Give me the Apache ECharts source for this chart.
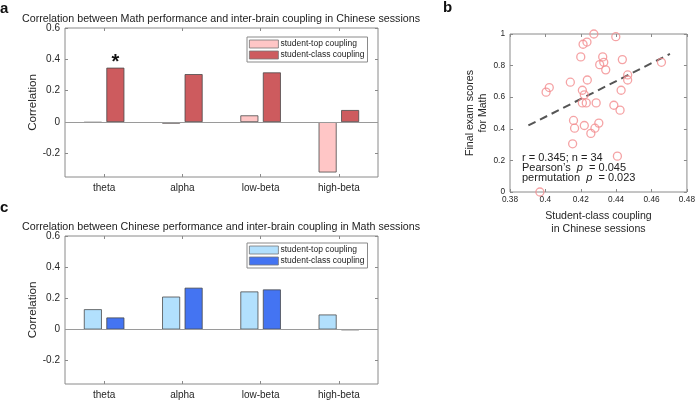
<!DOCTYPE html>
<html><head><meta charset="utf-8">
<script src="https://cdn.jsdelivr.net/npm/echarts@6/dist/echarts.min.js"></script>
<style>html,body{margin:0;padding:0;background:#fff}#c{width:698px;height:401px}</style>
</head><body><div id="c"></div><script>
// ---- data ----
const bands = ['theta', 'alpha', 'low-beta', 'high-beta'];
const mathTop = [-0.003, -0.01, 0.043, -0.321];
const mathClass = [0.347, 0.306, 0.317, 0.077];
const mathSig = ['*', '', '', ''];
const chnTop = [0.130, 0.211, 0.244, 0.096];
const chnClass = [0.077, 0.268, 0.257, -0.003];
const corrTicks = [-0.2, 0, 0.2, 0.4, 0.6];
const couplingX = [0.4274, 0.4398, 0.4213, 0.4235, 0.4200, 0.4324, 0.4330, 0.4307, 0.4341, 0.4435,
  0.4656, 0.4465, 0.4465, 0.4237, 0.4141, 0.4004, 0.4022, 0.4209, 0.4220, 0.4209,
  0.4231, 0.4287, 0.4428, 0.4387, 0.4422, 0.4159, 0.4165, 0.4220, 0.4302, 0.4280,
  0.4257, 0.4154, 0.4407, 0.3969];
const mathScores = [1.000, 0.983, 0.935, 0.949, 0.855, 0.855, 0.821, 0.806, 0.773, 0.838,
  0.821, 0.741, 0.709, 0.709, 0.695, 0.632, 0.661, 0.644, 0.615, 0.564,
  0.564, 0.564, 0.644, 0.549, 0.518, 0.453, 0.404, 0.421, 0.436, 0.404,
  0.371, 0.305, 0.227, 0.000];
const fitX = [0.3904, 0.4704];
const fitY = [0.421, 0.874];

// ---- style ----
const F = '"Liberation Sans", Arial, sans-serif';
const axisColor = '#8a8a8a';
const textColor = '#262626';
const edge = '#4a4a4a';

const chart = echarts.init(document.getElementById('c'));

function catAxis(grid, pos, labels) {
  return {
    type: 'category', gridIndex: grid, position: pos, data: bands,
    axisLine: { show: false, onZero: false },
    axisTick: { show: true, inside: true, length: 3, alignWithLabel: true, interval: 0, lineStyle: { color: axisColor } },
    axisLabel: { show: labels, interval: 0, margin: 6, fontFamily: F, fontSize: 10, color: textColor },
    splitLine: { show: false }
  };
}
function corrAxis(grid, pos, labels) {
  return {
    type: 'value', gridIndex: grid, position: pos, min: -0.35, max: 0.6,
    axisLine: { show: false, onZero: false }, splitLine: { show: false },
    axisTick: { show: true, inside: true, length: 3, customValues: corrTicks, lineStyle: { color: axisColor } },
    axisLabel: { show: labels, customValues: corrTicks, margin: 5, fontFamily: F, fontSize: 10, color: textColor,
      formatter: v => (Math.abs(v) < 1e-9 ? '0' : v.toFixed(1)) },
    name: labels ? 'Correlation' : '', nameLocation: 'middle', nameGap: 22,
    nameTextStyle: { fontFamily: F, fontSize: 11.6, color: textColor }
  };
}
function valAxisB(type, pos, labels) {
  const isX = type === 'x';
  return {
    type: 'value', gridIndex: 2, position: pos,
    min: isX ? 0.38 : 0, max: isX ? 0.48 : 1, interval: isX ? 0.02 : 0.2,
    axisLine: { show: false, onZero: false }, splitLine: { show: false },
    axisTick: { show: true, inside: true, length: 3, lineStyle: { color: axisColor } },
    axisLabel: { show: labels, margin: isX ? 4 : 5, fontFamily: F, fontSize: 8.3, color: textColor,
      formatter: v => String(+v.toFixed(2)) },
    name: labels ? (isX ? 'Student-class coupling\nin Chinese sessions' : 'Final exam scores\nfor Math') : '',
    nameLocation: 'middle', nameGap: isX ? 18 : 19,
    nameTextStyle: { fontFamily: F, fontSize: 10.6, color: textColor, lineHeight: 12.7 }
  };
}
function legendCfg(top, prefix) {
  return {
    orient: 'vertical', left: 247, top: top, selectedMode: false,
    data: [prefix + 'student-top coupling', prefix + 'student-class coupling'],
    formatter: n => n.slice(2),
    icon: 'rect', itemWidth: 29, itemHeight: 8, itemGap: 1,
    itemStyle: { borderWidth: 0.8, borderColor: '#777' },
    padding: [2, 3, 2, 2], borderColor: '#8a8a8a', borderWidth: 1,
    textStyle: { fontFamily: F, fontSize: 8.5, color: '#222', lineHeight: 10, padding: [0, 0, 0, -3] }
  };
}
const zeroLine = {
  silent: true, symbol: 'none', label: { show: false },
  lineStyle: { color: '#9a9a9a', type: 'solid', width: 1 },
  data: [{ yAxis: 0 }]
};
function barSeries(name, xi, yi, data, color, withZero) {
  const s = {
    type: 'bar', name, xAxisIndex: xi, yAxisIndex: yi, data,
    barWidth: 18, barGap: '25%',
    itemStyle: { color, borderColor: edge, borderWidth: 0.8 }
  };
  if (withZero) s.markLine = zeroLine;
  return s;
}

const mathClassData = mathClass.map((v, i) => mathSig[i] ? {
  value: v,
  label: { show: true, position: 'top', formatter: mathSig[i], distance: -5,
    fontFamily: F, fontSize: 20, fontWeight: 'bold', color: '#111' }
} : v);

const option = {
  animation: false,
  backgroundColor: '#fff',
  grid: [
    { left: 65, top: 28, width: 313, height: 149, show: true, borderColor: axisColor, borderWidth: 1, backgroundColor: 'transparent' },
    { left: 65, top: 236, width: 313, height: 148, show: true, borderColor: axisColor, borderWidth: 1, backgroundColor: 'transparent' },
    { left: 510, top: 34, width: 180, height: 158, show: true, borderColor: axisColor, borderWidth: 1, backgroundColor: 'transparent' }
  ],
  xAxis: [
    catAxis(0, 'bottom', true), catAxis(0, 'top', false),
    catAxis(1, 'bottom', true), catAxis(1, 'top', false),
    valAxisB('x', 'bottom', true), valAxisB('x', 'top', false)
  ],
  yAxis: [
    corrAxis(0, 'left', true), corrAxis(0, 'right', false),
    corrAxis(1, 'left', true), corrAxis(1, 'right', false),
    valAxisB('y', 'left', true), valAxisB('y', 'right', false)
  ],
  legend: [legendCfg(37, 'a:'), legendCfg(243, 'c:')],
  series: [
    barSeries('a:student-top coupling', 0, 0, mathTop, '#FFC6C6', true),
    barSeries('a:student-class coupling', 0, 0, mathClassData, '#CD5B5E', false),
    barSeries('c:student-top coupling', 2, 2, chnTop, '#B2E0FD', true),
    barSeries('c:student-class coupling', 2, 2, chnClass, '#4474F2', false),
    {
      type: 'line', xAxisIndex: 4, yAxisIndex: 4, data: fitX.map((x, i) => [x, fitY[i]]),
      symbol: 'none', silent: true, z: 3,
      lineStyle: { color: '#555', width: 2, type: [8, 5] }
    },
    {
      type: 'scatter', xAxisIndex: 4, yAxisIndex: 4, z: 4,
      data: couplingX.map((x, i) => [x, mathScores[i]]),
      symbol: 'circle', symbolSize: 8,
      itemStyle: { color: 'transparent', borderColor: '#F38C8E', borderWidth: 1.3 }
    }
  ],
  graphic: [
    { type: 'text', x: 221, y: 19, style: { text: 'Correlation between Math performance and inter-brain coupling in Chinese sessions',
      font: '10.7px ' + F, fill: '#222', align: 'center', verticalAlign: 'middle' } },
    { type: 'text', x: 221, y: 227, style: { text: 'Correlation between Chinese performance and inter-brain coupling in Math sessions',
      font: '10.7px ' + F, fill: '#222', align: 'center', verticalAlign: 'middle' } },
    { type: 'text', x: 0, y: 1, style: { text: 'a', font: 'bold 15px ' + F, fill: '#111' } },
    { type: 'text', x: 443, y: 0, style: { text: 'b', font: 'bold 15px ' + F, fill: '#111' } },
    { type: 'text', x: 0, y: 200, style: { text: 'c', font: 'bold 15px ' + F, fill: '#111' } },
    { type: 'text', x: 522, y: 153, style: {
      text: 'r = 0.345; n = 34\nPearson\u2019s  {i|p}  = 0.045\npermutation  {i|p}  = 0.023',
      font: '11px ' + F, fill: '#222', lineHeight: 10,
      rich: { i: { fontStyle: 'italic', fontFamily: F, fontSize: 11, lineHeight: 10, fill: '#222' } } } }
  ]
};
chart.setOption(option);
</script></body></html>
